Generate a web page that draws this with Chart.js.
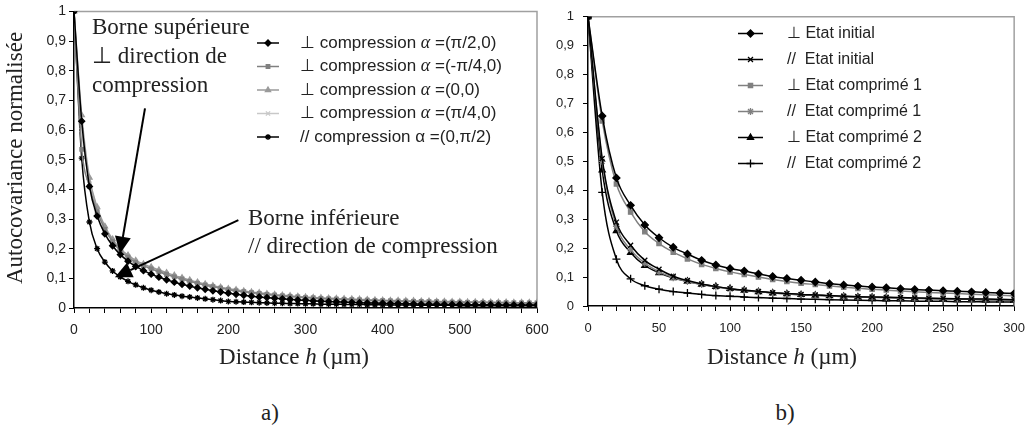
<!DOCTYPE html>
<html>
<head>
<meta charset="utf-8">
<script src="https://cdn.jsdelivr.net/npm/chart.js@4"></script>
<style>
body { margin: 0; background: #fff; }
#wrap { position: relative; width: 1035px; height: 426px; overflow: hidden; }
canvas { position: absolute; }
.txt { position: absolute; font-family: "Liberation Serif", serif; font-size: 23px; color: #222; white-space: nowrap; }
</style>
</head>
<body>
<div id="wrap">
  <canvas id="chart-a" width="560" height="345" style="left:0;top:0"></canvas>
  <canvas id="chart-b" width="520" height="345" style="left:515px;top:0"></canvas>

  <div class="txt" style="left:-135px;top:144px;width:300px;height:28px;line-height:28px;text-align:center;transform:rotate(-90deg)">Autocovariance normalisée</div>
  <div class="txt" style="left:144px;top:343px;width:300px;line-height:28px;text-align:center">Distance <i>h</i> (µm)</div>
  <div class="txt" style="left:632px;top:343px;width:300px;line-height:28px;text-align:center">Distance <i>h</i> (µm)</div>
  <div class="txt" style="left:220px;top:399px;width:100px;line-height:28px;text-align:center">a)</div>
  <div class="txt" style="left:735px;top:399px;width:100px;line-height:28px;text-align:center">b)</div>

  <div class="txt" style="left:92px;top:12px;line-height:29px">Borne supérieure<br>⊥ direction de<br>compression</div>
  <div class="txt" style="left:248px;top:204px;line-height:28px">Borne inférieure<br>// direction de compression</div>
</div>

<script>
// a) distances (µm) and series
const distA = [0, 10, 20, 30, 40, 50, 60, 70, 80, 90, 100, 110, 120, 130, 140, 150, 160, 170, 180, 190, 200,
  210, 220, 230, 240, 250, 260, 270, 280, 290, 300, 310, 320, 330, 340, 350, 360, 370, 380, 390, 400,
  410, 420, 430, 440, 450, 460, 470, 480, 490, 500, 510, 520, 530, 540, 550, 560, 570, 580, 590, 600];

const perpPi2 = [1, 0.63, 0.41, 0.31, 0.25, 0.21, 0.18, 0.158, 0.14, 0.126, 0.114, 0.104, 0.095, 0.087, 0.08, 0.074, 0.068, 0.063, 0.058, 0.054, 0.05,
  0.046, 0.043, 0.04, 0.037, 0.035, 0.033, 0.031, 0.029, 0.027, 0.026,
  0.024, 0.023, 0.022, 0.021, 0.02, 0.019, 0.018, 0.017, 0.017, 0.016,
  0.015, 0.015, 0.014, 0.014, 0.013, 0.013, 0.013, 0.012, 0.012, 0.012,
  0.011, 0.011, 0.011, 0.011, 0.01, 0.01, 0.01, 0.01, 0.01, 0.01];
const perpMinusPi4 = [1, 0.535, 0.41, 0.325, 0.265, 0.224, 0.193, 0.171, 0.154, 0.142, 0.132, 0.122, 0.113, 0.105, 0.097, 0.09, 0.083, 0.077, 0.072, 0.067, 0.062,
  0.058, 0.055, 0.052, 0.049, 0.046, 0.043, 0.041, 0.039, 0.037, 0.035,
  0.034, 0.032, 0.031, 0.03, 0.029, 0.028, 0.027, 0.026, 0.025, 0.025,
  0.024, 0.023, 0.023, 0.022, 0.022, 0.021, 0.021, 0.02, 0.02, 0.02,
  0.019, 0.019, 0.019, 0.018, 0.018, 0.018, 0.017, 0.017, 0.017, 0.017];
const perpZero = [1, 0.65, 0.44, 0.34, 0.275, 0.232, 0.2, 0.178, 0.16, 0.148, 0.138, 0.128, 0.119, 0.11, 0.102, 0.094, 0.087, 0.081, 0.075, 0.07, 0.065,
  0.061, 0.057, 0.054, 0.051, 0.048, 0.045, 0.043, 0.041, 0.039, 0.037,
  0.035, 0.034, 0.033, 0.032, 0.031, 0.03, 0.029, 0.028, 0.027, 0.026,
  0.025, 0.025, 0.024, 0.024, 0.023, 0.023, 0.022, 0.022, 0.021, 0.021,
  0.02, 0.02, 0.02, 0.019, 0.019, 0.019, 0.018, 0.018, 0.018, 0.018];
const perpPi4 = [1, 0.6, 0.43, 0.335, 0.27, 0.228, 0.197, 0.175, 0.158, 0.146, 0.135, 0.125, 0.116, 0.108, 0.1, 0.092, 0.085, 0.079, 0.073, 0.068, 0.064,
  0.06, 0.056, 0.053, 0.05, 0.047, 0.044, 0.042, 0.04, 0.038, 0.036,
  0.035, 0.033, 0.032, 0.031, 0.03, 0.029, 0.028, 0.027, 0.026, 0.025,
  0.025, 0.024, 0.024, 0.023, 0.022, 0.022, 0.021, 0.021, 0.02, 0.02,
  0.02, 0.019, 0.019, 0.019, 0.018, 0.018, 0.018, 0.017, 0.017, 0.017];
const parallel = [1, 0.505, 0.29, 0.2, 0.155, 0.125, 0.105, 0.09, 0.078, 0.068, 0.06, 0.054, 0.048, 0.044, 0.04, 0.037, 0.034, 0.031, 0.028, 0.025, 0.022,
  0.021, 0.02, 0.019, 0.018, 0.017, 0.016, 0.016, 0.015, 0.015, 0.014,
  0.014, 0.013, 0.013, 0.013, 0.012, 0.012, 0.012, 0.011, 0.011, 0.011,
  0.01, 0.01, 0.01, 0.01, 0.009, 0.009, 0.009, 0.009, 0.009, 0.008,
  0.008, 0.008, 0.008, 0.008, 0.008, 0.008, 0.008, 0.008, 0.008, 0.008];

// b) distances (µm) and series
const distB = [0, 10, 20, 30, 40, 50, 60, 70, 80, 90, 100, 110, 120, 130, 140, 150, 160, 170, 180, 190, 200,
  210, 220, 230, 240, 250, 260, 270, 280, 290, 300];

const perpInitial = [1, 0.657, 0.443, 0.348, 0.28, 0.236, 0.203, 0.18, 0.158, 0.142, 0.13, 0.121, 0.111, 0.102, 0.095, 0.089, 0.083, 0.077, 0.073, 0.069,
  0.066, 0.063, 0.06, 0.057, 0.055, 0.053, 0.051, 0.049, 0.047, 0.045, 0.043];
const parInitial = [1, 0.51, 0.29, 0.21, 0.158, 0.127, 0.103, 0.088, 0.076, 0.067, 0.06, 0.055, 0.05, 0.046, 0.043, 0.04, 0.038, 0.036, 0.034, 0.032,
  0.031, 0.03, 0.029, 0.028, 0.027, 0.026, 0.025, 0.024, 0.024, 0.023, 0.022];
const perpComp1 = [1, 0.64, 0.422, 0.325, 0.257, 0.216, 0.186, 0.163, 0.144, 0.13, 0.118, 0.109, 0.1, 0.092, 0.085, 0.079, 0.074, 0.069, 0.065, 0.061,
  0.058, 0.055, 0.052, 0.049, 0.047, 0.045, 0.043, 0.041, 0.039, 0.037, 0.035];
const parComp1 = [1, 0.5, 0.275, 0.195, 0.148, 0.118, 0.098, 0.085, 0.074, 0.066, 0.059, 0.054, 0.049, 0.045, 0.042, 0.039, 0.037, 0.035, 0.033, 0.031,
  0.03, 0.029, 0.028, 0.027, 0.026, 0.025, 0.024, 0.023, 0.023, 0.022, 0.021];
const perpComp2 = [1, 0.47, 0.26, 0.185, 0.14, 0.115, 0.097, 0.085, 0.075, 0.067, 0.06, 0.054, 0.049, 0.045, 0.042, 0.039, 0.037, 0.035, 0.033, 0.031,
  0.03, 0.029, 0.028, 0.027, 0.026, 0.025, 0.024, 0.023, 0.022, 0.022, 0.021];
const parComp2 = [1, 0.393, 0.162, 0.094, 0.07, 0.058, 0.05, 0.045, 0.04, 0.036, 0.034, 0.031, 0.029, 0.027, 0.026, 0.024, 0.023, 0.022, 0.021, 0.02,
  0.019, 0.018, 0.018, 0.017, 0.016, 0.016, 0.015, 0.015, 0.014, 0.014, 0.013];

// gray top/right border of the plot area
const plotFrame = {
  id: 'plotFrame',
  beforeDatasetsDraw(chart, args, opts) {
    const { ctx, chartArea: a } = chart;
    ctx.save();
    ctx.strokeStyle = opts.color;
    ctx.lineWidth = opts.width;
    ctx.beginPath();
    ctx.moveTo(a.left, a.top);
    ctx.lineTo(a.right, a.top);
    ctx.lineTo(a.right, a.bottom);
    ctx.stroke();
    ctx.restore();
  }
};

// legend drawn inside the plot, Excel style
const insideLegend = {
  id: 'insideLegend',
  afterDatasetsDraw(chart, args, opts) {
    const ctx = chart.ctx;
    ctx.save();
    chart.data.datasets.forEach((ds, i) => {
      const y = opts.y + i * opts.rowH;
      ctx.strokeStyle = ds.borderColor;
      ctx.lineWidth = ds.borderWidth;
      ctx.beginPath();
      ctx.moveTo(opts.x1, y);
      ctx.lineTo(opts.x2, y);
      ctx.stroke();
      ctx.fillStyle = ds.pointBackgroundColor;
      ctx.strokeStyle = ds.pointBorderColor;
      ctx.lineWidth = ds.pointBorderWidth;
      Chart.helpers.drawPoint(ctx, { pointStyle: ds.pointStyle, radius: ds.pointRadius, borderWidth: ds.pointBorderWidth, rotation: 0 },
        (opts.x1 + opts.x2) / 2, y);

      ctx.fillStyle = '#222';
      ctx.textBaseline = 'middle';
      let x = opts.textX;
      ds.label.split('α').forEach((part, k) => {
        if (k > 0) {
          ctx.font = ds.label.startsWith('⊥') ? opts.alphaFont : opts.font;
          ctx.fillText('α', x, y);
          x += ctx.measureText('α').width;
        }
        ctx.font = opts.font;
        ctx.fillText(part, x, y);
        x += ctx.measureText(part).width;
      });
    });
    ctx.restore();
  }
};

// annotation arrows, ends given in data units
const arrows = {
  id: 'arrows',
  afterDatasetsDraw(chart, args, opts) {
    if (!opts.list) return;
    const { ctx, scales: { x, y } } = chart;
    ctx.save();
    ctx.strokeStyle = '#000';
    ctx.fillStyle = '#000';
    ctx.lineWidth = 2;
    opts.list.forEach(a => {
      const x1 = x.getPixelForValue(a.from[0]), y1 = y.getPixelForValue(a.from[1]);
      const x2 = x.getPixelForValue(a.to[0]), y2 = y.getPixelForValue(a.to[1]);
      const ang = Math.atan2(y2 - y1, x2 - x1);
      const len = opts.headLen, hw = opts.headHalf;
      const bx = x2 - Math.cos(ang) * len, by = y2 - Math.sin(ang) * len;
      ctx.beginPath();
      ctx.moveTo(x1, y1);
      ctx.lineTo(bx, by);
      ctx.stroke();
      ctx.beginPath();
      ctx.moveTo(x2, y2);
      ctx.lineTo(bx - Math.sin(ang) * hw, by + Math.cos(ang) * hw);
      ctx.lineTo(bx + Math.sin(ang) * hw, by - Math.cos(ang) * hw);
      ctx.closePath();
      ctx.fill();
    });
    ctx.restore();
  }
};

function makeSet(label, xs, values, color, style, radius) {
  return {
    label: label,
    data: values.map((v, i) => ({ x: xs[i], y: v })),
    borderColor: color,
    borderWidth: 1.5,
    pointStyle: style,
    pointRadius: radius,
    pointBackgroundColor: color,
    pointBorderColor: color,
    pointBorderWidth: 1.3,
    cubicInterpolationMode: 'monotone',
    fill: false
  };
}

function commaTick(v) {
  return String(Math.round(v * 10) / 10).replace('.', ',');
}

function makeOptions(cfg) {
  return {
    responsive: false,
    animation: false,
    layout: { padding: { top: 8, right: cfg.padRight, left: 0, bottom: 0 } },
    scales: {
      x: {
        type: 'linear',
        min: 0,
        max: cfg.xMax,
        afterFit: s => { s.height = cfg.xHeight; },
        ticks: {
          stepSize: cfg.xMinor,
          autoSkip: false,
          maxRotation: 0,
          padding: cfg.xPad,
          color: '#222',
          font: { family: 'Liberation Sans', size: cfg.tickSize },
          callback: v => (v % cfg.xMajor === 0 ? String(v) : '')
        },
        grid: { drawOnChartArea: false, drawTicks: true, tickLength: 5, color: '#000', lineWidth: 1 },
        border: { color: '#000', width: 1.5 }
      },
      y: {
        min: 0,
        max: 1,
        afterFit: s => { s.width = cfg.yWidth; },
        ticks: {
          stepSize: 0.1,
          padding: cfg.yPad,
          color: '#222',
          font: { family: 'Liberation Sans', size: cfg.tickSize },
          callback: commaTick
        },
        grid: { drawOnChartArea: false, drawTicks: true, tickLength: 5, color: '#000', lineWidth: 1 },
        border: { color: '#000', width: 1.5 }
      }
    },
    plugins: {
      legend: { display: false },
      tooltip: { enabled: false },
      plotFrame: { color: '#a0a0a0', width: 1.5 },
      insideLegend: cfg.legend,
      arrows: cfg.arrows || {}
    }
  };
}

new Chart(document.getElementById('chart-a'), {
  type: 'line',
  data: {
    datasets: [
      makeSet('⊥ compression α =(π/2,0)', distA, perpPi2, '#000000', 'rectRot', 3),
      makeSet('⊥ compression α =(-π/4,0)', distA, perpMinusPi4, '#808080', 'rect', 2.5),
      makeSet('⊥ compression α =(0,0)', distA, perpZero, '#9a9a9a', 'triangle', 3),
      makeSet('⊥ compression α =(π/4,0)', distA, perpPi4, '#c8c8c8', 'crossRot', 3),
      makeSet('// compression α =(0,π/2)', distA, parallel, '#000000', 'star', 3)
    ]
  },
  options: makeOptions({
    xMax: 600, xMinor: 20, xMajor: 100, xHeight: 37, yWidth: 74, padRight: 23,
    xPad: 9, yPad: 3, tickSize: 14,
    legend: { x1: 257, x2: 279, textX: 300, y: 43, rowH: 23.5, font: '17px "Liberation Sans"', alphaFont: 'italic 18px "Liberation Serif"' },
    arrows: { headLen: 17, headHalf: 8, list: [{ from: [92, 0.673], to: [59.6, 0.183] }, { from: [213, 0.296], to: [53, 0.104] }] }
  }),
  plugins: [plotFrame, insideLegend, arrows]
});

new Chart(document.getElementById('chart-b'), {
  type: 'line',
  data: {
    datasets: [
      makeSet('⊥ Etat initial', distB, perpInitial, '#000000', 'rectRot', 3.5),
      makeSet('//  Etat initial', distB, parInitial, '#000000', 'crossRot', 3.5),
      makeSet('⊥ Etat comprimé 1', distB, perpComp1, '#808080', 'rect', 3),
      makeSet('//  Etat comprimé 1', distB, parComp1, '#808080', 'star', 3.5),
      makeSet('⊥ Etat comprimé 2', distB, perpComp2, '#000000', 'triangle', 3.5),
      makeSet('//  Etat comprimé 2', distB, parComp2, '#000000', 'cross', 4)
    ]
  },
  options: makeOptions({
    xMax: 300, xMinor: 10, xMajor: 50, xHeight: 39, yWidth: 73, padRight: 16,
    xPad: 10, yPad: 9, tickSize: 13,
    legend: { x1: 223, x2: 248, textX: 272, y: 33.5, rowH: 26, font: '16px "Liberation Sans"', alphaFont: 'italic 16px "Liberation Serif"' }
  }),
  plugins: [plotFrame, insideLegend]
});
</script>
</body>
</html>
